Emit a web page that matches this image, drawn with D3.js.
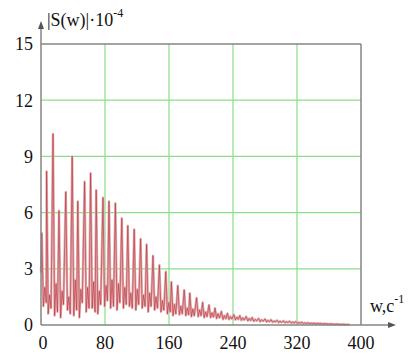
<!DOCTYPE html>
<html><head><meta charset="utf-8">
<script src="https://cdn.jsdelivr.net/npm/d3@7"></script>
<style>body{margin:0;background:#fff}svg{display:block}
text{font-family:"Liberation Serif","DejaVu Serif",serif;}</style>
</head><body>
<svg id="c" width="411" height="354"></svg>
<script>
const xTicks = [0, 80, 160, 240, 320, 400];
const yTicks = [0, 3, 6, 9, 12, 15];
const startPoint = [0, 2.8];
const peakW = [1, 7, 15, 22.5, 31, 39, 46, 54.5, 62, 69, 77.5, 85, 93, 101, 108.5, 116.5, 124.5, 132, 140, 148, 156, 163, 171, 179, 186, 194.5, 202, 210, 217.5, 225.5, 233, 241, 248.5, 256.5, 264, 272, 280, 287.5, 295, 303, 311, 318.5, 326, 334, 342, 349.5, 357, 365, 373, 380];
const peakS = [4.9, 8.2, 10.2, 6.1, 7.1, 9.0, 6.6, 7.65, 8.1, 7.2, 6.8, 6.6, 6.5, 5.7, 5.3, 5.1, 4.6, 4.3, 3.7, 3.2, 2.85, 2.3, 2.1, 1.87, 1.7, 1.45, 1.2, 1.07, 0.9, 0.72, 0.62, 0.55, 0.5, 0.45, 0.4, 0.35, 0.32, 0.28, 0.25, 0.22, 0.2, 0.18, 0.15, 0.12, 0.1, 0.09, 0.07, 0.05, 0.04, 0.03];
const lowA = [1.0, 0.6, 0.5, 0.4, 0.8, 0.5, 0.4, 0.7, 0.9, 0.6, 1.0, 0.9, 0.8, 0.9, 1.0, 0.8, 0.9, 0.7, 0.8, 0.7, 0.6, 0.5, 0.55, 0.5, 0.45, 0.45, 0.4, 0.4, 0.35, 0.3, 0.3, 0.28, 0.25, 0.22, 0.2, 0.18, 0.16, 0.15, 0.13, 0.12, 0.1, 0.09, 0.08, 0.07, 0.06, 0.05, 0.04, 0.03, 0.02, 0.02];
const secS = [2.0, 1.6, 2.2, 1.8, 1.5, 2.4, 1.9, 2.0, 2.3, 1.8, 2.1, 2.4, 2.2, 2.0, 1.7, 1.9, 1.6, 1.7, 1.5, 1.3, 1.2, 1.1, 1.0, 0.9, 0.85, 0.8, 0.7, 0.65, 0.6, 0.5, 0.45, 0.42, 0.38, 0.35, 0.3, 0.28, 0.25, 0.22, 0.2, 0.18, 0.16, 0.14, 0.12, 0.1, 0.09, 0.08, 0.06, 0.05, 0.04, 0.03];
const lowB = [1.2, 0.9, 0.7, 1.1, 0.6, 0.8, 1.2, 0.9, 0.7, 1.1, 1.3, 1.0, 1.2, 1.1, 0.9, 1.1, 1.0, 1.0, 0.9, 0.8, 0.7, 0.6, 0.6, 0.55, 0.5, 0.5, 0.45, 0.42, 0.38, 0.34, 0.32, 0.3, 0.27, 0.24, 0.22, 0.2, 0.18, 0.16, 0.14, 0.13, 0.11, 0.1, 0.09, 0.08, 0.07, 0.06, 0.05, 0.04, 0.03, 0.02];

const svg = d3.select("#c");
const L = 41, R = 361, T = 44, B = 325;
const x = d3.scaleLinear().domain([0, 400]).range([L, R]);
const y = d3.scaleLinear().domain([0, 15]).range([B, T]);

const pts = [startPoint];
peakW.forEach((w, i) => {
  pts.push([w, peakS[i]]);
  pts.push([w + 2, lowA[i]]);
  pts.push([w + 3.8, secS[i]]);
  pts.push([w + 5.6, lowB[i]]);
});

const grid = svg.append("g").attr("stroke", "#8ade8a").attr("stroke-width", 1.2);
xTicks.filter(t => t > 0 && t < 400).forEach(t => {
  grid.append("line").attr("x1", x(t)).attr("x2", x(t)).attr("y1", T).attr("y2", B);
});
yTicks.filter(t => t > 0 && t < 15).forEach(t => {
  grid.append("line").attr("x1", L).attr("x2", R).attr("y1", y(t)).attr("y2", y(t));
});

const gray = "#858585";
svg.append("line").attr("x1", L).attr("x2", R).attr("y1", T).attr("y2", T).attr("stroke", gray).attr("stroke-width", 1.5);
svg.append("line").attr("x1", R).attr("x2", R).attr("y1", T).attr("y2", B).attr("stroke", gray).attr("stroke-width", 1.5);

const line = d3.line().x(d => x(d[0])).y(d => y(d[1]));
svg.append("path").datum(pts).attr("d", line).attr("fill", "none")
  .attr("stroke", "#e2aeb0").attr("stroke-width", 2.4).attr("stroke-linejoin", "round");
svg.append("path").datum(pts).attr("d", line).attr("fill", "none")
  .attr("stroke", "#b8303a").attr("stroke-width", 0.7).attr("stroke-opacity", 0.85).attr("stroke-linejoin", "round");

svg.append("line").attr("x1", L).attr("x2", L).attr("y1", B).attr("y2", 26).attr("stroke", gray).attr("stroke-width", 1.5);
svg.append("line").attr("x1", L).attr("x2", 390).attr("y1", B).attr("y2", B).attr("stroke", gray).attr("stroke-width", 1.5);
svg.append("path").attr("d", `M${L},21 L${L-3},29 L${L+3},29 Z`).attr("fill", "#555");
svg.append("path").attr("d", `M396,${B} L388,${B-3} L388,${B+3} Z`).attr("fill", "#555");

svg.append("g").selectAll("text").data(yTicks).join("text")
  .attr("x", 33).attr("y", d => y(d)).attr("dy", "0.35em")
  .attr("text-anchor", "end").attr("font-size", 18).attr("fill", "#111")
  .text(d => d);
svg.append("g").selectAll("text").data(xTicks).join("text")
  .attr("x", d => x(d) + (d === 0 ? 2 : 0)).attr("y", 349)
  .attr("text-anchor", "middle").attr("font-size", 18).attr("fill", "#111")
  .text(d => d);

const yt = svg.append("text").attr("x", 47).attr("y", 26).attr("font-size", 18).attr("fill", "#111");
yt.append("tspan").text("|S(w)|·10");
yt.append("tspan").attr("dy", -9).attr("font-size", 12).text("-4");

const xt = svg.append("text").attr("x", 370).attr("y", 312).attr("font-size", 18).attr("fill", "#111");
xt.append("tspan").text("w,c");
xt.append("tspan").attr("dy", -9).attr("font-size", 12).text("-1");
</script>
</body></html>
